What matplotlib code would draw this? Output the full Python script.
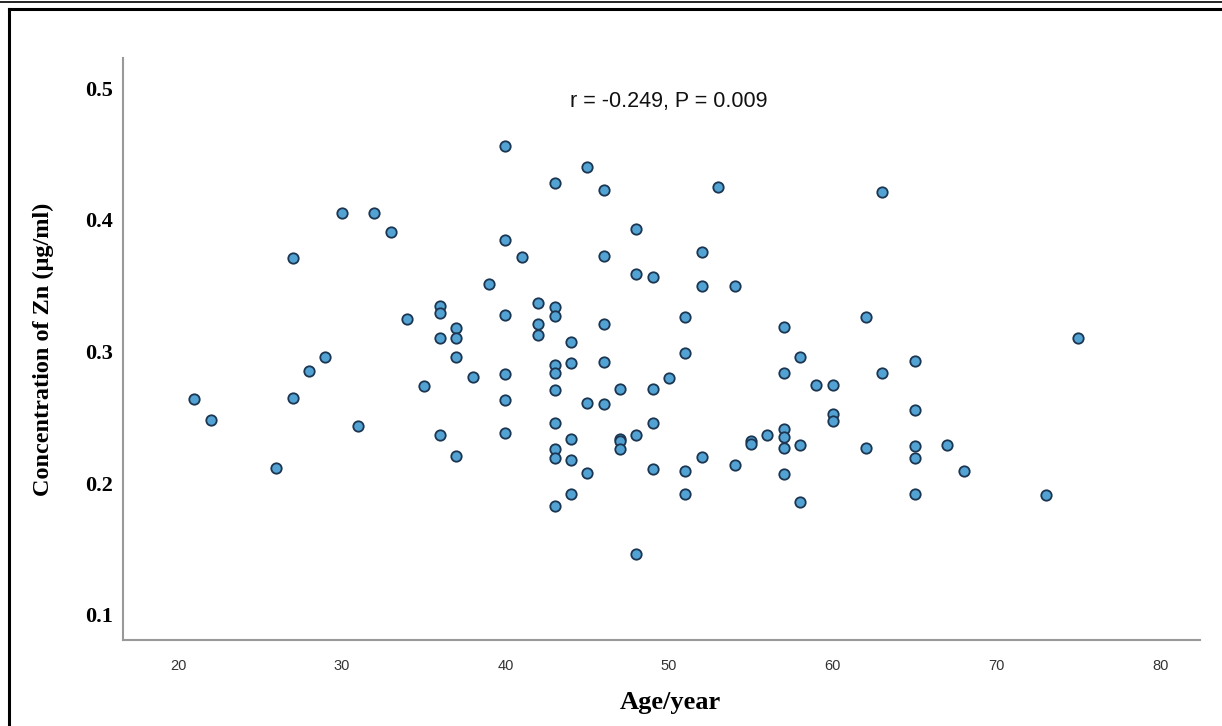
import matplotlib
matplotlib.use("Agg")
import matplotlib.pyplot as plt
from matplotlib.lines import Line2D

# age (years) and Zn concentration (ug/ml)
age = [21, 22, 26, 27, 27, 28, 29, 30, 31, 32, 33, 34, 35,
       36, 36, 36, 36, 37, 37, 37, 37, 38, 39,
       40, 40, 40, 40, 40, 40, 41, 42, 42, 42,
       43, 43, 43, 43, 43, 43, 43, 43, 43, 43,
       44, 44, 44, 44, 44, 45, 45, 45,
       46, 46, 46, 46, 46, 47, 47, 47, 47,
       48, 48, 48, 48, 49, 49, 49, 49, 50,
       51, 51, 51, 51, 52, 52, 52, 53, 54, 54, 55, 55, 56,
       57, 57, 57, 57, 57, 57, 58, 58, 58, 59,
       60, 60, 60, 62, 62, 63, 63,
       65, 65, 65, 65, 65, 67, 68, 73, 75]
zn = [0.264, 0.248, 0.212, 0.371, 0.265, 0.285, 0.296, 0.405, 0.2435, 0.405, 0.3905, 0.325, 0.274,
      0.335, 0.329, 0.310, 0.2365, 0.318, 0.310, 0.296, 0.2207, 0.281, 0.351,
      0.456, 0.385, 0.328, 0.283, 0.263, 0.238, 0.372, 0.337, 0.321, 0.313,
      0.428, 0.334, 0.327, 0.290, 0.284, 0.271, 0.246, 0.226, 0.219, 0.183,
      0.307, 0.291, 0.234, 0.218, 0.192, 0.440, 0.261, 0.208,
      0.423, 0.373, 0.321, 0.292, 0.260, 0.272, 0.234, 0.232, 0.226,
      0.393, 0.359, 0.2365, 0.146, 0.357, 0.272, 0.246, 0.211, 0.280,
      0.326, 0.299, 0.209, 0.192, 0.376, 0.350, 0.220, 0.425, 0.350, 0.214, 0.232, 0.230, 0.237,
      0.319, 0.284, 0.241, 0.235, 0.227, 0.207, 0.296, 0.229, 0.186, 0.275,
      0.275, 0.253, 0.247, 0.326, 0.227, 0.421, 0.284,
      0.293, 0.256, 0.228, 0.219, 0.192, 0.229, 0.209, 0.191, 0.310]

x_ticks = [20, 30, 40, 50, 60, 70, 80]
y_ticks = [0.1, 0.2, 0.3, 0.4, 0.5]
stat_text = "r = -0.249, P = 0.009"

W, H = 1222, 726
fig = plt.figure(figsize=(W / 100, H / 100), dpi=100)
ax = fig.add_axes([123 / W, 1 - 640 / H, (1200 - 123) / W, (640 - 58) / H])

ax.scatter(age, zn, s=56, facecolor="#52a3d4", edgecolor="#1c3550", linewidth=1.3, zorder=3)

ax.set_xlim(16.64, 82.43)
ax.set_ylim(0.081, 0.523)
ax.set_xticks(x_ticks)
ax.set_yticks(y_ticks)
ax.set_yticklabels(["{:.1f}".format(v) for v in y_ticks],
                   family="Liberation Serif", fontweight="bold", fontsize=16)
ax.set_xticklabels([str(v) for v in x_ticks], family="Liberation Sans", fontsize=10.5, color="#333333")
ax.tick_params(axis="both", length=0)
ax.tick_params(axis="x", pad=14)
ax.tick_params(axis="y", pad=7)

for side in ["top", "right"]:
    ax.spines[side].set_visible(False)
for side in ["left", "bottom"]:
    ax.spines[side].set_color("#999999")
    ax.spines[side].set_linewidth(1.5)

ax.set_xlabel("Age/year", family="Liberation Serif", fontweight="bold", fontsize=19)
ax.xaxis.set_label_coords(0.508, -0.087)
ax.set_ylabel("Concentration of Zn (\u03bcg/ml)", family="Liberation Serif", fontweight="bold",
              fontsize=17.5)
ax.yaxis.set_label_coords(-0.064, 0.5)

ax.text(0.507, 0.925, stat_text, transform=ax.transAxes, ha="center", va="center",
        family="Liberation Sans", fontsize=15.5, color="#111111")

# outer frame of the original image
fig.add_artist(Line2D([0, 1], [1 - 1.5 / H, 1 - 1.5 / H], color="black", linewidth=1.2))
fig.add_artist(Line2D([9 / W, 1], [1 - 8.5 / H, 1 - 8.5 / H], color="black", linewidth=2.2))
fig.add_artist(Line2D([9 / W, 9 / W], [0, 1 - 8.5 / H], color="black", linewidth=2.2))

fig.savefig("out.png", dpi=100)
